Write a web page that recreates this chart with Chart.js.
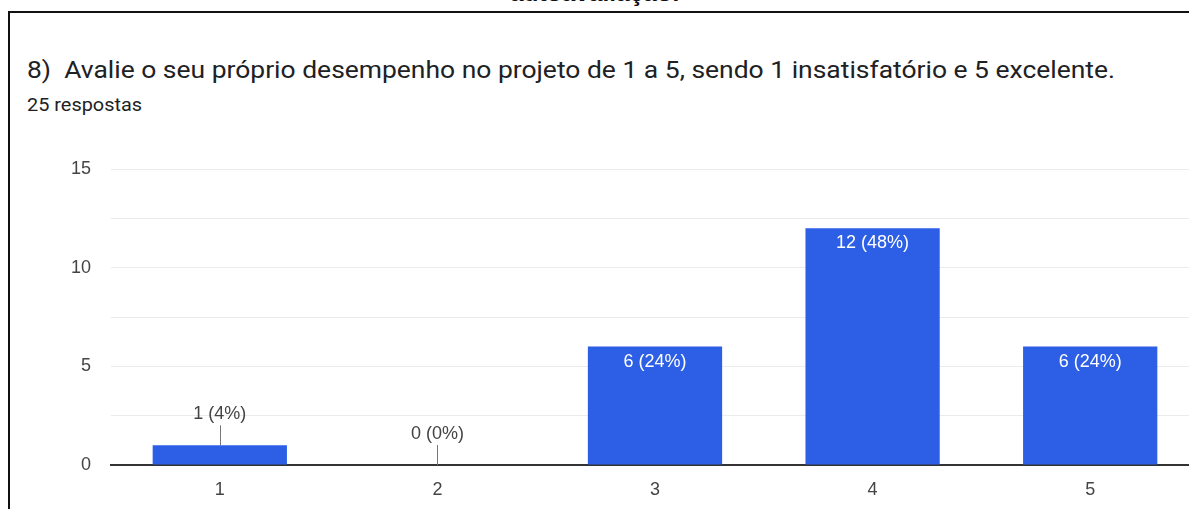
<!DOCTYPE html>
<html>
<head>
<meta charset="utf-8">
<script src="https://cdn.jsdelivr.net/npm/chart.js@4"></script>
<style>
  html, body { margin:0; padding:0; background:#fff; overflow:hidden; width:1189px; height:509px; }
  #frame { position:absolute; left:8px; top:11px; width:1400px; height:700px; border:2px solid #111; box-sizing:border-box; }
  .t { position:absolute; white-space:nowrap; transform-origin:0 0; }
  #top { left:510px; top:-17px; font:bold 22px "Liberation Sans", Arial, sans-serif; color:#111; line-height:22px; }
  #title { left:27px; top:56px; font:24px Roboto, sans-serif; color:#202124; line-height:28px; }
  #sub { left:27px; top:95px; font:18px Roboto, sans-serif; color:#202124; line-height:20px; }
  #wrap { position:absolute; left:0; top:0; width:1200px; height:509px; }
</style>
</head>
<body>
<div id="top" class="t">autoavaliação:</div>
<div id="frame"></div>
<div id="title" class="t">8)&nbsp; Avalie o seu próprio desempenho no projeto de 1 a 5, sendo 1 insatisfatório e 5 excelente.</div>
<div id="sub" class="t">25 respostas</div>
<div id="wrap"><canvas id="c"></canvas></div>
<script>
const categories = ["1", "2", "3", "4", "5"];
const counts = [1, 0, 6, 12, 6];
const percents = ["4%", "0%", "24%", "48%", "24%"];
const yTickLabels = [0, 5, 10, 15];

// the reference screenshot is slightly stretched horizontally: fit header texts to their measured widths
[['top', 170], ['title', 1088], ['sub', 115]].forEach(([id, w]) => {
  const el = document.getElementById(id);
  const nat = el.getBoundingClientRect().width;
  el.style.transform = 'scaleX(' + (w / nat) + ')';
});

const FONT = '"Liberation Sans", Arial, sans-serif';

const labelPlugin = {
  id: 'barLabels',
  afterDatasetsDraw(chart) {
    const ctx = chart.ctx;
    const meta = chart.getDatasetMeta(0);
    const base = chart.scales.y.getPixelForValue(0);
    ctx.save();
    ctx.font = '18px ' + FONT;
    ctx.textAlign = 'center';
    ctx.textBaseline = 'middle';
    meta.data.forEach((bar, i) => {
      const txt = counts[i] + ' (' + percents[i] + ')';
      const h = base - bar.y;
      if (h > 30) {
        ctx.fillStyle = '#ffffff';
        ctx.fillText(txt, bar.x, bar.y + 15);
      } else {
        ctx.strokeStyle = '#777';
        ctx.lineWidth = 1;
        ctx.beginPath();
        ctx.moveTo(Math.round(bar.x) + 0.5, bar.y);
        ctx.lineTo(Math.round(bar.x) + 0.5, bar.y - 20);
        ctx.stroke();
        ctx.fillStyle = '#444';
        ctx.fillText(txt, bar.x, bar.y - 31);
      }
    });
    ctx.restore();
  }
};

new Chart(document.getElementById('c'), {
  type: 'bar',
  data: {
    labels: categories,
    datasets: [{
      data: counts,
      backgroundColor: '#2c5fe6',
      borderWidth: 0,
      categoryPercentage: 1,
      barPercentage: 0.617
    }]
  },
  options: {
    responsive: true,
    maintainAspectRatio: false,
    animation: false,
    layout: { padding: { top: 169, right: 1, left: 0, bottom: 0 } },
    plugins: { legend: { display: false }, tooltip: { enabled: false }, title: { display: false } },
    scales: {
      x: {
        grid: { display: false, drawTicks: false },
        border: { display: true, color: '#333', width: 2 },
        ticks: { color: '#444', font: { family: FONT, size: 18 }, padding: 14 },
        afterFit: s => { s.height = 44; }
      },
      y: {
        min: 0, max: 15,
        grid: { color: '#ebebeb', lineWidth: 1, drawTicks: false },
        border: { display: false },
        ticks: {
          stepSize: 2.5,
          padding: 20,
          color: '#444',
          font: { family: FONT, size: 18 },
          callback: v => yTickLabels.includes(v) ? String(v) : ''
        },
        afterFit: s => { s.width = 111; }
      }
    }
  },
  plugins: [labelPlugin]
});
</script>
</body>
</html>
